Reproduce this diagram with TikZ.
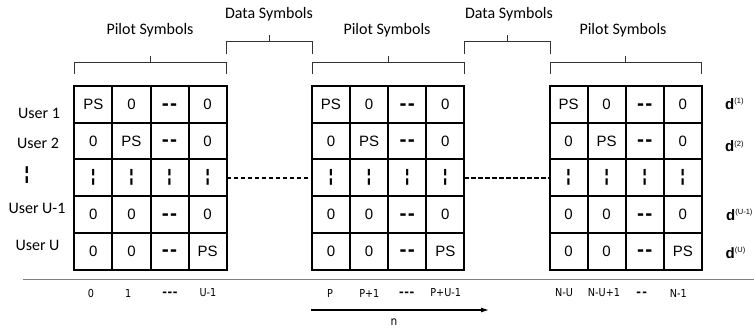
\documentclass[tikz,border=0pt]{standalone}
\usepackage{fontspec}
\setmainfont{Carlito}
\newfontfamily\cellfont{Liberation Sans}
\newfontfamily\idxfont[FakeStretch=0.88]{DejaVu Sans}
\usetikzlibrary{arrows.meta}
\newcommand\cdash{\raisebox{-5.7pt}[0pt][0pt]{\fontsize{21}{21}\selectfont\bfseries -\kern1.2pt-}}
\newcommand\cbar{{\fontsize{17}{17}\selectfont\bfseries ¦}}
\newcommand\idash{\raisebox{-3.8pt}[0pt][0pt]{\cellfont\fontsize{14}{14}\selectfont\bfseries -\kern0.6pt-\kern0.6pt-}}
\newcommand\idashb{\raisebox{-3.8pt}[0pt][0pt]{\cellfont\fontsize{14}{14}\selectfont\bfseries -\kern1.2pt-}}
\newcommand\dlab[1]{\textbf{d}\raisebox{5.5pt}{\fontsize{7.5}{7.5}\selectfont (#1)}}
\begin{document}
\begin{tikzpicture}[x=1pt,y=-1pt,
  cell/.style={draw, line width=2pt, minimum width=38.1pt, minimum height=36.7pt,
    inner sep=0pt, outer sep=0pt, font=\cellfont\fontsize{15}{15}\selectfont},
  lbl/.style={inner sep=0pt, font=\fontsize{16}{16}\selectfont},
  idx/.style={inner sep=0pt, font=\idxfont\fontsize{11}{11}\selectfont},
  dl/.style={inner sep=0pt, anchor=base west, font=\cellfont\fontsize{15}{15}\selectfont},
  brk/.style={draw=black!80, line width=1pt},
  conn/.style={line width=1.6pt, dash pattern=on 4.5pt off 2.5pt},
  axis/.style={draw=black!50, line width=1.2pt}]
\useasboundingbox (0,0) rectangle (754,331);
\clip (0,0) rectangle (754,331);

% grids
\foreach \g/\gx in {1/74.3,2/311.9,3/549.5}{
  \foreach \r/\ca/\cb/\cc/\cd in {1/PS/0/\cdash/0, 2/0/PS/\cdash/0, 3/\cbar/\cbar/\cbar/\cbar, 4/0/0/\cdash/0, 5/0/0/\cdash/PS}{
    \node[cell] (g\g-\r-1) at (\gx+19.05, 86+36.7*\r-18.35) {\ca};
    \node[cell] (g\g-\r-2) at (\gx+57.15, 86+36.7*\r-18.35) {\cb};
    \node[cell] (g\g-\r-3) at (\gx+95.25, 86+36.7*\r-18.35) {\cc};
    \node[cell] (g\g-\r-4) at (\gx+133.35, 86+36.7*\r-18.35) {\cd};
  }
}

% dashed links
\draw[conn] (g1-3-4.east) -- (g2-3-1.west);
\draw[conn] (g2-3-4.east) -- (g3-3-1.west);

% user labels
\node[lbl] (u1) at (39,113) {User 1};
\node[lbl] (u2) at (38,143) {User 2};
\node[lbl] (u3) at (27,175) {\cellfont\fontsize{18}{18}\selectfont\bfseries ¦};
\node[lbl] (u4) at (37,208) {User U-1};
\node[lbl] (u5) at (37.5,245) {User U};

% d labels
\node[dl] (d1) at (725,109.5) {\dlab{1}};
\node[dl] (d2) at (725,151.5) {\dlab{2}};
\node[dl] (d4) at (726,220) {\dlab{U-1}};
\node[dl] (d5) at (725.5,258) {\dlab{U}};

% brackets
\draw[brk] (74.3,74) -- (74.3,62.3) -- (226.7,62.3) -- (226.7,74);
\draw[brk] (150.5,62.3) -- (150.5,56);
\draw[brk] (226.7,54) -- (226.7,41.7) -- (312.3,41.7) -- (312.3,54);
\draw[brk] (269.5,41.7) -- (269.5,35.5);
\draw[brk] (312.3,74) -- (312.3,62.3) -- (464.3,62.3) -- (464.3,74);
\draw[brk] (388.3,62.3) -- (388.3,56);
\draw[brk] (464.3,54) -- (464.3,41.7) -- (550,41.7) -- (550,54);
\draw[brk] (507.2,41.7) -- (507.2,35.5);
\draw[brk] (550,74) -- (550,62.3) -- (701.7,62.3) -- (701.7,74);
\draw[brk] (625.8,62.3) -- (625.8,56);

\node[lbl] (p1) at (150,30) {Pilot Symbols};
\node[lbl] (p2) at (387,30) {Pilot Symbols};
\node[lbl] (p3) at (623,30) {Pilot Symbols};
\node[lbl] (ds1) at (269,14.5) {Data Symbols};
\node[lbl] (ds2) at (509,14.5) {Data Symbols};

% axis
\coordinate (ax0) at (22.7,279.5);
\coordinate (ax1) at (754,279.5);
\draw[axis] (ax0) -- (ax1);

% indices
\node[idx] (i1a) at (91,293) {0};
\node[idx] (i1b) at (128.3,293) {1};
\node[idx] (i1c) at (170,293) {\idash};
\node[idx] (i1d) at (208,293) {U-1};
\node[idx] (i2a) at (330,293) {P};
\node[idx] (i2b) at (369.3,293) {P+1};
\node[idx] (i2c) at (406.7,293) {\idash};
\node[idx] (i2d) at (445.7,293) {P+U-1};
\node[idx] (i3a) at (564,293) {N-U};
\node[idx] (i3b) at (604,293) {N-U+1};
\node[idx] (i3c) at (641.7,293) {\idashb};
\node[idx] (i3d) at (678.3,293) {N-1};

% arrow
\coordinate (a0) at (311,310);
\coordinate (a1) at (489,310);
\draw[line width=1.2pt, -{Latex[length=8pt,width=5pt]}] (a0) -- (a1);
\node[inner sep=0pt, font=\idxfont\fontsize{12}{12}\selectfont] (n) at (394,322.5) {n};
\end{tikzpicture}
\end{document}
